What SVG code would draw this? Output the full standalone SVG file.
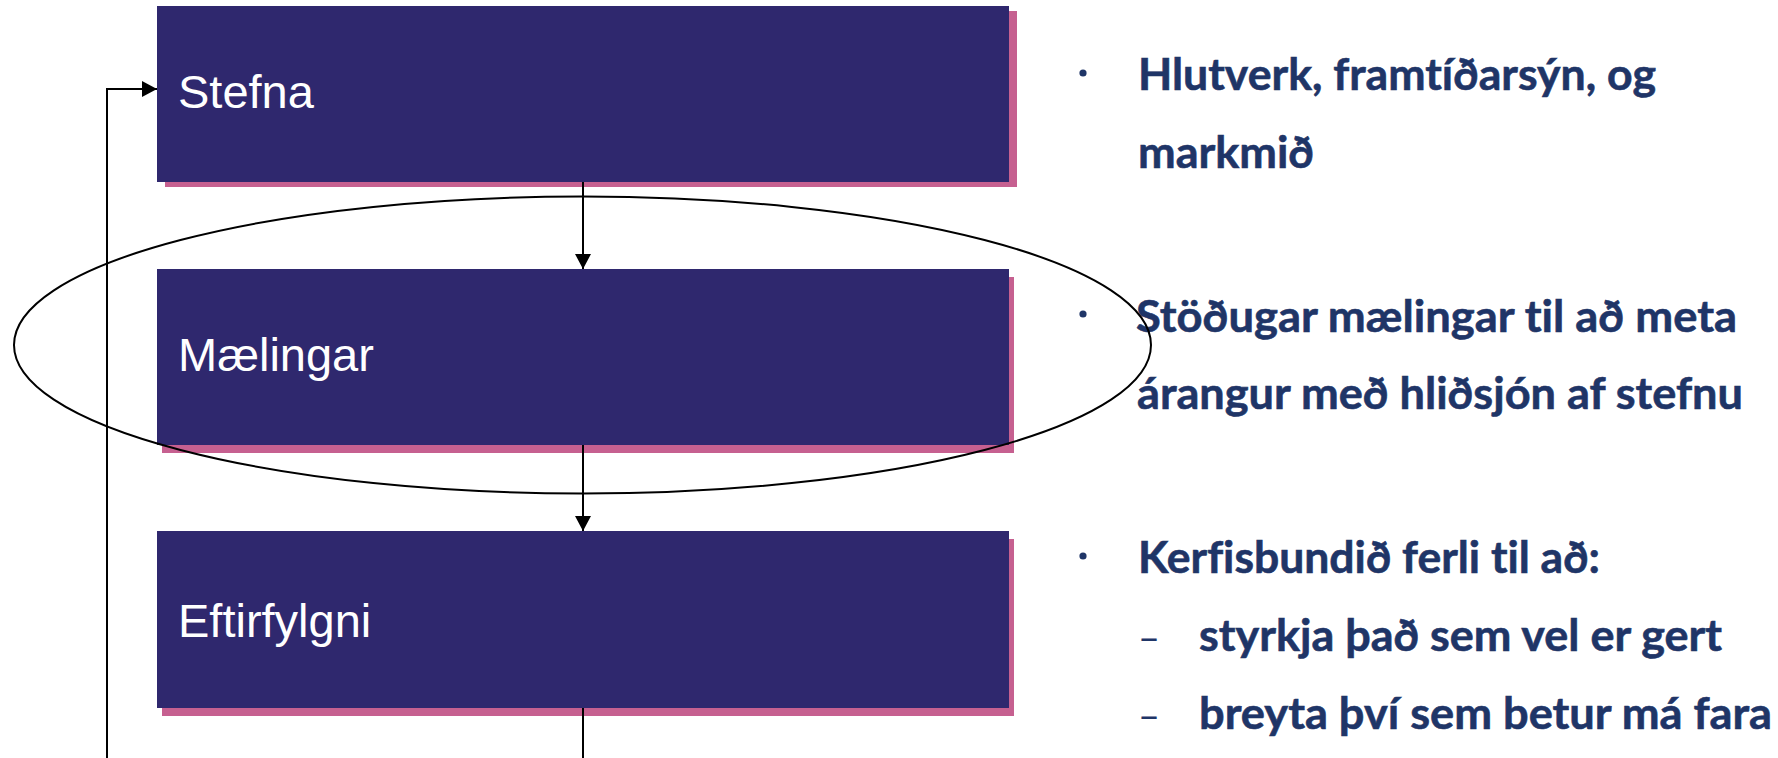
<svg xmlns="http://www.w3.org/2000/svg" width="1778" height="758" viewBox="0 0 1778 758">
<style>
.box{fill:#2F286E}
.shadow{fill:#C66090}
.lbl{font-family:"Liberation Sans",Arial,sans-serif;font-size:47px;fill:#FFFFFF}
.txt{font-family:Lato,"Open Sans",sans-serif;font-weight:bold;font-size:44.5px;fill:#1F3567;stroke:#1F3567;stroke-width:0.6;font-variant-ligatures:none}
.dash{font-family:Lato,"Open Sans",sans-serif;font-weight:normal;font-size:38px;fill:#1F3567}
.conn{fill:none;stroke:#000;stroke-width:2}
</style>
<defs>
<marker id="arr" markerUnits="userSpaceOnUse" markerWidth="16" markerHeight="16" viewBox="0 0 16 16" refX="15" refY="8" orient="auto">
<path d="M0,0 L15,8 L0,16 Z" fill="#000"/>
</marker>
</defs>
<rect width="1778" height="758" fill="#FFFFFF"/>
<g id="node-stefna">
<rect class="shadow" x="165" y="11" width="852" height="176"/>
<rect class="box" x="157" y="6" width="852" height="176"/>
<text class="lbl" x="178" y="108">Stefna</text>
</g>
<g id="node-maelingar">
<rect class="shadow" x="162" y="277" width="852" height="176"/>
<rect class="box" x="157" y="269" width="852" height="176"/>
<text class="lbl" x="178" y="371">Mælingar</text>
</g>
<g id="node-eftirfylgni">
<rect class="shadow" x="162" y="539" width="852" height="177"/>
<rect class="box" x="157" y="531" width="852" height="177"/>
<text class="lbl" x="178" y="637">Eftirfylgni</text>
</g>
<g id="connectors">
<path class="conn" d="M583,182 V269" marker-end="url(#arr)"/>
<path class="conn" d="M583,445 V531" marker-end="url(#arr)"/>
<path class="conn" d="M583,708 V758"/>
<path class="conn" d="M107,758 V89 H157" marker-end="url(#arr)"/>
</g>
<g id="node-notes">
<circle cx="1083" cy="73" r="3.6" fill="#1F3567"/>
<text class="txt" x="1138" y="90" textLength="518" lengthAdjust="spacingAndGlyphs">Hlutverk, framtíðarsýn, og</text>
<text class="txt" x="1138" y="168" textLength="176" lengthAdjust="spacingAndGlyphs">markmið</text>
<circle cx="1083" cy="314" r="3.6" fill="#1F3567"/>
<text class="txt" x="1136" y="332" textLength="601" lengthAdjust="spacingAndGlyphs">Stöðugar mælingar til að meta</text>
<text class="txt" x="1137" y="409" textLength="606" lengthAdjust="spacingAndGlyphs">árangur með hliðsjón af stefnu</text>
<circle cx="1083" cy="556" r="3.6" fill="#1F3567"/>
<text class="txt" x="1138" y="573" textLength="462" lengthAdjust="spacingAndGlyphs">Kerfisbundið ferli til að:</text>
<text class="dash" x="1138" y="651">–</text>
<text class="txt" x="1199" y="651" textLength="523" lengthAdjust="spacingAndGlyphs">styrkja það sem vel er gert</text>
<text class="dash" x="1138" y="729">–</text>
<text class="txt" x="1199" y="729" textLength="573" lengthAdjust="spacingAndGlyphs">breyta því sem betur má fara</text>
</g>
<g id="node-ellipse">
<ellipse cx="582.5" cy="345" rx="568.5" ry="148.5" fill="none" stroke="#000" stroke-width="2"/>
</g>
</svg>
